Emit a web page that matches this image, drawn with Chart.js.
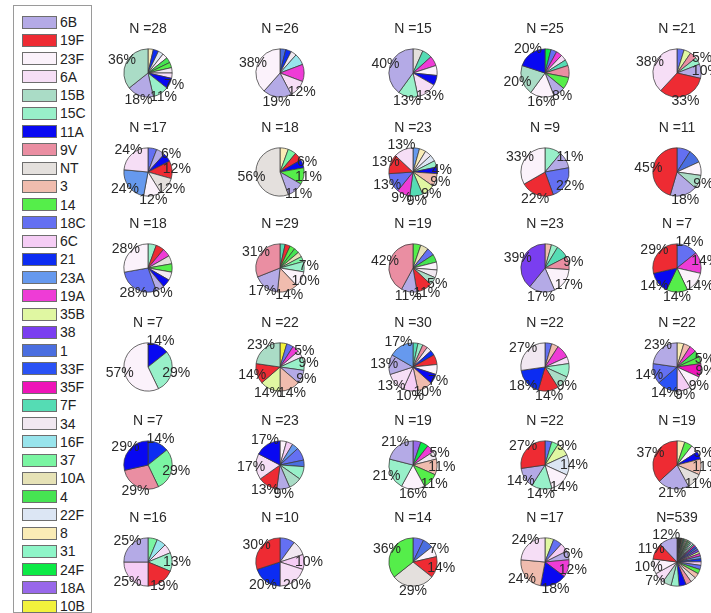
<!DOCTYPE html>
<html>
<head>
<meta charset="utf-8">
<script src="https://cdn.jsdelivr.net/npm/chart.js@4.4.0/dist/chart.umd.min.js"></script>
<style>
  html, body { margin: 0; padding: 0; background: #fff; }
  body { width: 711px; height: 613px; overflow: hidden; position: relative; font-family: "Liberation Sans", Arial, sans-serif; }
  #legend { position: absolute; left: 13px; top: 5px; width: 79px; height: 608px; border: 1px solid #9a9a9a; box-sizing: border-box; }
  .sw { position: absolute; left: 8px; width: 35px; height: 13px; border: 1px solid #6e6e6e; box-sizing: border-box; }
  .lb { position: absolute; left: 46px; font-size: 14px; line-height: 16px; color: #222; }
  canvas { position: absolute; }
</style>
</head>
<body>
<div id="legend"></div>
<script>
// serotypes in legend order, with their colours
const serotypes = ["6B","19F","23F","6A","15B","15C","11A","9V","NT","3","14","18C","6C","21","23A","19A",
  "35B","38","1","33F","35F","7F","34","16F","37","10A","4","22F","8","31","24F","18A","10B"];
const palette = ["#b4aae6","#ee2b33","#fbf2fb","#f6def6","#aadcc6","#98f0c9","#0808f2","#ea8ea2","#e4e0dd","#f0bcae",
  "#55ee4a","#6470f2","#f5cdf5","#0c2cf2","#6699ee","#ee3cd6","#e0f7a2","#7a3ef0","#4a6ee0","#2a52f5","#ee14b8",
  "#55dcb4","#f1e8f1","#98e4ec","#7af5a2","#e6e2b6","#46e452","#dce6f4","#faecb6","#8ef5c8","#0cea46","#9868ea","#f2f23c"];
// rare serotypes only seen in the pooled pie (drawn black)
const rareSerotypes = ["15A","16A","17F","20","22A","23B","24A","28A","29","33A","35A","35C","7C","9N","10F","11B","12F","13"];

// counts per panel, in drawing order (counter-clockwise from 12 o'clock)
const p01 = [["15B",10],["6B",5],["15C",3],["11A",2],["6A",1],["34",1],["14",1],["4",1],["23F",1],["22F",1],["21",1],["8",1]];
const p02 = [["23F",10],["6B",5],["6A",3],["19A",3],["16F",2],["34",1],["21",1],["1",1]];
const p03 = [["6B",6],["15C",2],["6A",2],["11A",1],["23F",1],["19A",1],["7F",1],["NT",1]];
const p04 = [["11A",5],["15B",5],["23F",4],["6B",2],["14",2],["9V",2],["7F",1],["6A",1],["19A",1],["18C",1],["24F",1]];
const p05 = [["6A",8],["19F",7],["6B",2],["15C",1],["9V",1],["35B",1],["18C",1]];
const p06 = [["6A",4],["23A",4],["23F",2],["NT",2],["19F",2],["11A",1],["6B",1],["18C",1]];
const p07 = [["NT",10],["6B",2],["14",2],["11A",1],["19F",1],["37",1],["8",1]];
const p08 = [["6A",3],["19F",3],["18C",3],["19A",2],["7F",2],["35B",2],["3",2],["11A",1],["15C",1],["22F",1],["34",1],["8",1],["23A",1]];
const p09 = [["23F",3],["19F",2],["18C",2],["6B",1],["15C",1]];
const p10 = [["19F",5],["6B",2],["15B",1],["23F",1],["1",1],["18C",1]];
const p11 = [["23F",5],["18C",5],["6B",1],["11A",1],["34",1],["14",1],["NT",1],["19A",1],["19F",1],["15C",1]];
const p12 = [["9V",9],["6B",5],["3",4],["23F",3],["15C",2],["37",1],["10A",1],["4",1],["14",1],["19F",1],["7F",1]];
const p13 = [["9V",8],["6B",2],["19F",2],["15B",1],["34",1],["23F",1],["4",1],["18C",1],["10A",1],["14",1]];
const p14 = [["38",9],["6B",4],["23F",4],["9V",2],["7F",2],["15C",1],["3",1]];
const p15 = [["19F",2],["11A",1],["14",1],["23F",1],["19A",1],["18C",1]];
const p16 = [["23F",4],["15C",2],["11A",1]];
const p17 = [["15B",5],["19F",3],["35B",3],["3",3],["6B",2],["15C",2],["6A",1],["19A",1],["18C",1],["10B",1]];
const p18 = [["23A",5],["6B",4],["6A",4],["6C",3],["3",3],["11A",2],["23F",2],["19F",2],["21",1],["34",1],["9V",1],["15C",1],["7F",1]];
const p19 = [["34",6],["21",4],["19F",3],["15B",2],["15C",2],["6A",1],["19A",2],["3",1],["18C",1]];
const p20 = [["6B",5],["18C",3],["33F",3],["6C",2],["23F",2],["35F",2],["14",1],["4",1],["19A",1],["3",1],["8",1]];
const p21 = [["11A",2],["9V",2],["37",2],["21",1]];
const p22 = [["11A",4],["6A",4],["19F",3],["6B",2],["15B",2],["15C",2],["1",1],["18C",2],["23A",1],["6C",1],["23F",1]];
const p23 = [["6B",4],["15C",4],["23F",3],["14",2],["3",2],["34",1],["19A",1],["24F",1],["18A",1]];
const p24 = [["19F",6],["6B",3],["15C",3],["23F",3],["22F",3],["35B",2],["37",1],["18C",1]];
const p25 = [["19F",7],["6B",4],["NT",2],["3",2],["11A",1],["23F",1],["14",1],["8",1]];
const p26 = [["6B",4],["6C",4],["19F",3],["15C",2],["6A",1],["16F",1],["37",1]];
const p27 = [["19F",3],["21",2],["6A",2],["6C",1],["34",1],["18C",1]];
const p28 = [["14",5],["NT",4],["19F",2],["23F",1],["1",1],["18C",1]];
const p29 = [["6A",4],["3",4],["11A",3],["19A",2],["6B",1],["6C",1],["18C",1],["35B",1]];
const p30 = [["6B",65],["19F",59],["23F",54],["6A",38],["15B",32],["15C",29],["11A",25],["9V",21],["NT",20],["3",18],
  ["14",16],["18C",15],["6C",13],["21",11],["23A",10],["19A",9],["35B",8],["38",8],["1",7],["33F",7],["35F",6],
  ["7F",6],["34",6],["16F",5],["37",5],["10A",4],["4",4],["22F",4],["8",4],["31",3],["24F",3],["18A",3],["10B",3],
  ...rareSerotypes.map(s => [s, 1])];

const panels = [p01,p02,p03,p04,p05,p06,p07,p08,p09,p10,p11,p12,p13,p14,p15,
  p16,p17,p18,p19,p20,p21,p22,p23,p24,p25,p26,p27,p28,p29,p30];
// how many of the leading slices carry a percentage label
const labelFirst = [4,3,3,4,4, 6,4,8,4,3, 3,5,4,4,6, 3,7,6,4,7, 4,4,6,6,5, 4,4,4,5,4];

// legend
const legend = document.getElementById("legend");
serotypes.forEach((s, i) => {
  const cy = 16 + 18.25 * i;
  const sw = document.createElement("div");
  sw.className = "sw";
  sw.style.top = (cy - 6.5) + "px";
  sw.style.background = palette[i];
  legend.appendChild(sw);
  const lb = document.createElement("div");
  lb.className = "lb";
  lb.style.top = (cy - 8) + "px";
  lb.textContent = s;
  legend.appendChild(lb);
});

function colorOf(s) {
  const i = serotypes.indexOf(s);
  return i >= 0 ? palette[i] : "#000000";
}

// title and percentage labels, MATLAB style (centred at 1.2 r)
const pieText = {
  id: "pieText",
  afterDraw(chart) {
    const o = chart.options.plugins.pieText;
    const arcs = chart.getDatasetMeta(0).data;
    const vals = chart.data.datasets[0].data;
    const total = vals.reduce((a, b) => a + b, 0);
    const ctx = chart.ctx;
    ctx.save();
    ctx.font = '14px "Liberation Sans", Arial, sans-serif';
    ctx.fillStyle = "#2a2a2a";
    ctx.textAlign = "center";
    ctx.textBaseline = "middle";
    ctx.fillText(o.title, arcs[0].x, arcs[0].y - 44);
    const n = arcs.length;
    arcs.forEach((arc, j) => {
      if (n - 1 - j >= o.labelFirst) return;
      const mid = (arc.startAngle + arc.endAngle) / 2;
      const r = arc.outerRadius * 1.2;
      ctx.fillText(Math.round(vals[j] / total * 100) + "%", arc.x + r * Math.cos(mid), arc.y + r * Math.sin(mid));
    });
    ctx.restore();
  }
};

const colX = [148, 280, 413, 545, 677];
const rowY = [73, 172, 268, 367, 465, 562];
const W = 132, H = 100, CX = 66, CY = 56, HALF = 24.5;

panels.forEach((p, k) => {
  const cx = colX[k % 5], cy = rowY[Math.floor(k / 5)];
  const cv = document.createElement("canvas");
  cv.width = W; cv.height = H;
  cv.style.left = (cx - CX) + "px";
  cv.style.top = (cy - CY) + "px";
  document.body.appendChild(cv);
  // Chart.js goes clockwise, MATLAB counter-clockwise: reverse
  const rev = p.slice().reverse();
  const total = p.reduce((a, d) => a + d[1], 0);
  const title = (k === panels.length - 1 ? "N=" : "N =") + total;
  new Chart(cv, {
    type: "pie",
    data: {
      labels: rev.map(d => d[0]),
      datasets: [{
        data: rev.map(d => d[1]),
        backgroundColor: rev.map(d => colorOf(d[0])),
        borderColor: "#3a3a3a",
        borderWidth: 0.75
      }]
    },
    options: {
      responsive: false,
      animation: false,
      events: [],
      layout: { padding: { left: CX - HALF, right: W - CX - HALF, top: CY - HALF, bottom: H - CY - HALF } },
      plugins: {
        legend: { display: false },
        tooltip: { enabled: false },
        pieText: { title: title, labelFirst: labelFirst[k] }
      }
    },
    plugins: [pieText]
  });
});
</script>
</body>
</html>
